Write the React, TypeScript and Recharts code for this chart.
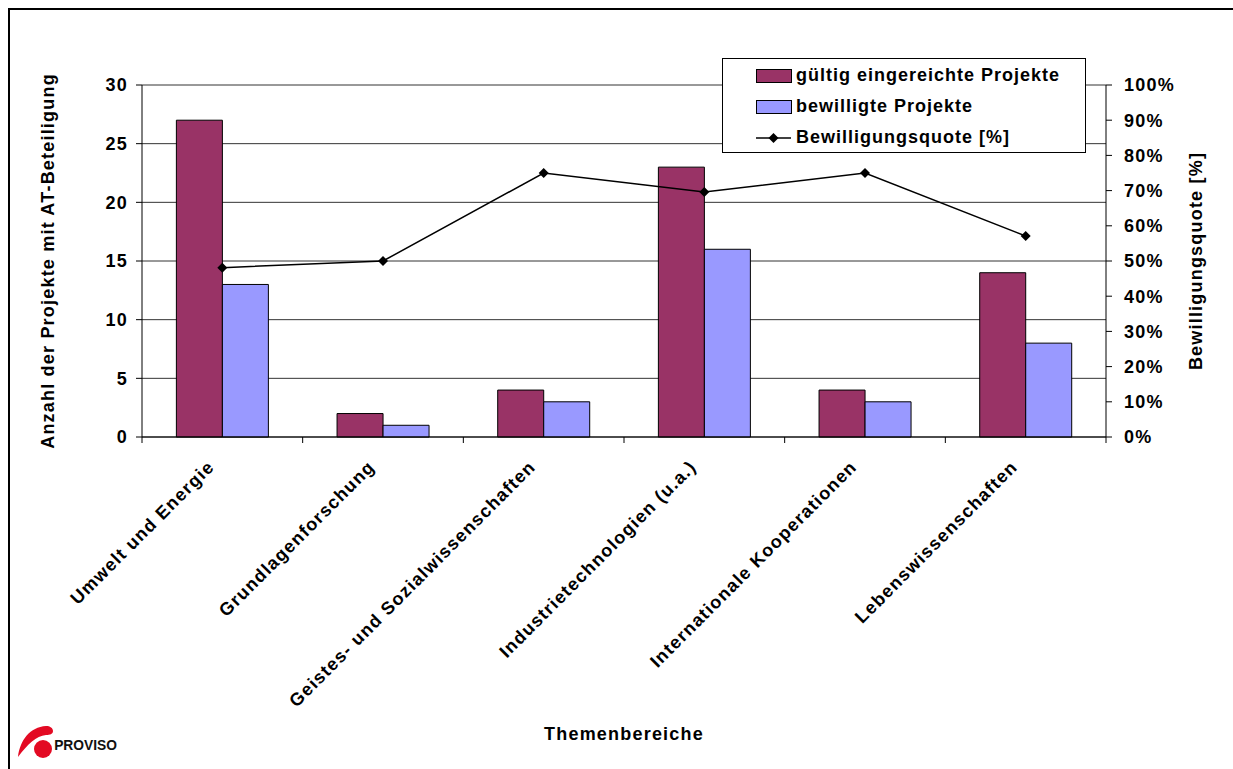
import { Bar, CartesianGrid, ComposedChart, Legend, Line, XAxis, YAxis } from "recharts";

// Themenbereiche und Projektzahlen
const themen = [
  "Umwelt und Energie",
  "Grundlagenforschung",
  "Geistes- und Sozialwissenschaften",
  "Industrietechnologien (u.a.)",
  "Internationale Kooperationen",
  "Lebenswissenschaften",
];
const eingereicht = [27, 2, 4, 23, 4, 14];
const bewilligt = [13, 1, 3, 16, 3, 8];
const quote = [48.1, 50, 75, 69.6, 75, 57.1];

const anzahlTicks = [0, 5, 10, 15, 20, 25, 30];
const quoteTicks = [0, 10, 20, 30, 40, 50, 60, 70, 80, 90, 100];

const data = themen.map((name, i) => ({
  name,
  eingereicht: eingereicht[i],
  bewilligt: bewilligt[i],
  quote: quote[i],
}));

const FONT = "'Liberation Sans', Arial, sans-serif";
const MAROON = "#993366";
const LAVENDER = "#9999FF";

const txt = { fontFamily: FONT, fontSize: 18, fontWeight: 700, fill: "#000", letterSpacing: 1.2 };

function Diamond({ cx, cy }: any) {
  if (cx == null || cy == null) return null;
  const r = 5;
  return <polygon points={`${cx},${cy - r} ${cx + r},${cy} ${cx},${cy + r} ${cx - r},${cy}`} fill="#000" />;
}

function ThemaTick({ x, y, payload }: any) {
  const half = payload?.offset ?? 80;
  const last = payload?.index === themen.length - 1;
  const ax = x - 7;
  const ay = y + 31;
  return (
    <g>
      <line x1={x - half} y1={y} x2={x - half} y2={y + 6} stroke="#000" />
      {last && <line x1={x + half} y1={y} x2={x + half} y2={y + 6} stroke="#000" />}
      <text x={ax} y={ay} textAnchor="end" transform={`rotate(-45, ${ax}, ${ay})`} {...txt}>
        {payload.value}
      </text>
    </g>
  );
}

function LegendBox() {
  const rows = [
    { name: "gültig eingereichte Projekte", kind: "bar", color: MAROON },
    { name: "bewilligte Projekte", kind: "bar", color: LAVENDER },
    { name: "Bewilligungsquote [%]", kind: "line", color: "#000" },
  ];
  return (
    <div
      style={{
        width: 364,
        height: 95,
        boxSizing: "border-box",
        border: "1px solid #000",
        background: "#fff",
        paddingTop: 1,
      }}
    >
      {rows.map((r) => (
        <div key={r.name} style={{ display: "flex", alignItems: "center", height: 31 }}>
          <svg width={72} height={31} style={{ flex: "none" }}>
            {r.kind === "bar" ? (
              <rect x={33.5} y={9.5} width={35} height={13} fill={r.color} stroke="#000" />
            ) : (
              <>
                <line x1={33} y1={16} x2={68} y2={16} stroke="#000" strokeWidth={1.5} />
                <Diamond cx={50.5} cy={16} />
              </>
            )}
          </svg>
          <span
            style={{
              fontFamily: FONT,
              fontSize: 18,
              fontWeight: 700,
              letterSpacing: 1,
              marginLeft: 1,
              whiteSpace: "nowrap",
            }}
          >
            {r.name}
          </span>
        </div>
      ))}
    </div>
  );
}

function ProvisoLogo() {
  return (
    <svg width={130} height={50} style={{ position: "absolute", left: 10, top: 718 }}>
      <path
        d="M8,39 C10,22 20,9 36,8 C40,8 43,10 43,13 C43,16 40,17 36,17 C26,18 18,26 8,39 Z"
        fill="#E30A23"
      />
      <circle cx={33} cy={31} r={9} fill="#E30A23" />
      <text
        x={44}
        y={32}
        style={{ fontFamily: "'Liberation Sans Narrow', 'Liberation Sans', Arial, sans-serif", fontSize: 15, fontWeight: 700 }}
        fill="#111"
        transform="scale(0.92,1) translate(4,0)"
      >
        PROVISO
      </text>
    </svg>
  );
}

export default function App() {
  return (
    <div style={{ position: "absolute", left: 0, top: 0, width: 1233, height: 769, overflow: "hidden", background: "#fff" }}>
      <div
        style={{
          position: "absolute",
          left: 8,
          top: 8,
          width: 1300,
          height: 900,
          borderTop: "2px solid #000",
          borderLeft: "2px solid #000",
        }}
      />
      <div style={{ position: "absolute", left: 0, top: 0 }}>
        <ComposedChart
          width={1233}
          height={769}
          data={data}
          margin={{ top: 85, right: 47, bottom: 82, left: 82 }}
          barCategoryGap="21.4%"
          barGap={0}
        >
          <CartesianGrid yAxisId="anzahl" vertical={false} stroke="#333" strokeWidth={1} />
          <XAxis
            dataKey="name"
            height={250}
            interval={0}
            tickSize={0}
            tickMargin={0}
            tickLine={false}
            axisLine={{ stroke: "#000" }}
            tick={<ThemaTick />}
            label={{
              content: ({ viewBox }: any) => (
                <text x={viewBox.x + viewBox.width / 2} y={740} textAnchor="middle" {...txt}>
                  Themenbereiche
                </text>
              ),
            }}
          />
          <YAxis
            yAxisId="anzahl"
            width={60}
            domain={[0, 30]}
            ticks={anzahlTicks}
            interval={0}
            tickSize={6}
            tickMargin={8}
            axisLine={{ stroke: "#000" }}
            tickLine={{ stroke: "#000" }}
            tick={txt}
            label={{
              content: ({ viewBox }: any) => {
                const cx = 54;
                const cy = viewBox.y + viewBox.height / 2;
                return (
                  <text x={cx} y={cy} textAnchor="middle" transform={`rotate(-90, ${cx}, ${cy})`} {...txt}>
                    Anzahl der Projekte mit AT-Beteiligung
                  </text>
                );
              },
            }}
          />
          <YAxis
            yAxisId="quote"
            orientation="right"
            width={80}
            domain={[0, 100]}
            ticks={quoteTicks}
            interval={0}
            tickSize={6}
            tickMargin={12}
            axisLine={{ stroke: "#000" }}
            tickLine={{ stroke: "#000" }}
            tick={txt}
            tickFormatter={(v: number) => `${v}%`}
            label={{
              content: ({ viewBox }: any) => {
                const cx = 1202;
                const cy = viewBox.y + viewBox.height / 2;
                return (
                  <text x={cx} y={cy} textAnchor="middle" transform={`rotate(-90, ${cx}, ${cy})`} {...txt}>
                    Bewilligungsquote [%]
                  </text>
                );
              },
            }}
          />
          <Legend
            layout="vertical"
            align="center"
            verticalAlign="middle"
            wrapperStyle={{ position: "absolute", left: 722, top: 58, width: 364, height: 95 }}
            content={() => <LegendBox />}
          />
          <Bar
            yAxisId="anzahl"
            dataKey="eingereicht"
            name="gültig eingereichte Projekte"
            fill={MAROON}
            stroke="#000"
            strokeWidth={1}
            isAnimationActive={false}
          />
          <Bar
            yAxisId="anzahl"
            dataKey="bewilligt"
            name="bewilligte Projekte"
            fill={LAVENDER}
            stroke="#000"
            strokeWidth={1}
            isAnimationActive={false}
          />
          <Line
            yAxisId="quote"
            dataKey="quote"
            name="Bewilligungsquote [%]"
            type="linear"
            stroke="#000"
            strokeWidth={1.5}
            dot={<Diamond />}
            activeDot={false}
            isAnimationActive={false}
          />
        </ComposedChart>
      </div>
      <ProvisoLogo />
    </div>
  );
}
